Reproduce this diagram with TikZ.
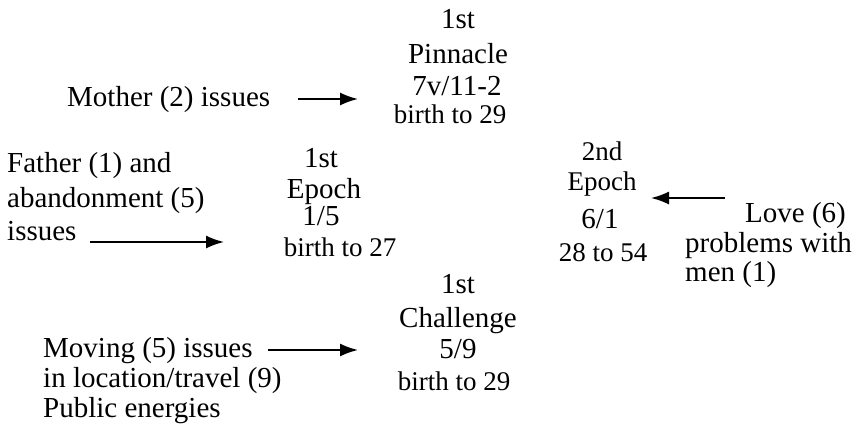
\documentclass[tikz,border=0pt]{standalone}
\usepackage{fontspec}
\setmainfont{Liberation Serif}
\usetikzlibrary{arrows.meta}
\tikzset{
  big/.style={anchor=base, inner sep=0pt, font=\fontsize{29}{29}\selectfont},
  small/.style={anchor=base, inner sep=0pt, font=\fontsize{27}{27}\selectfont},
  bigl/.style={anchor=base west, inner sep=0pt, font=\fontsize{29}{29}\selectfont},
  arr/.style={line width=1.8pt, -{Latex[length=18pt,width=13pt]}}
}
\begin{document}
\begin{tikzpicture}[x=1pt,y=-1pt]
\useasboundingbox (0,0) rectangle (857,424);
% 1st Pinnacle
\node[big] (p1) at (458,28) {1st};
\node[big] (p2) at (458,63) {Pinnacle};
\node[big] (p3) at (457,95) {7v/11-2};
\node[small] (p4) at (450,123) {birth to 29};
% Mother
\node[bigl] (mo) at (67,106) {Mother (2) issues};
\coordinate (moS) at (298,99);
\coordinate (moE) at (358,99);
\draw[arr] (moS) -- (moE);
% Father
\node[bigl] (f1) at (7,172) {Father (1) and};
\node[bigl] (f2) at (7,207) {abandonment (5)};
\node[bigl] (f3) at (7,240) {issues};
\coordinate (fS) at (90,242);
\coordinate (fE) at (224,242);
\draw[arr] (fS) -- (fE);
% 1st Epoch
\node[big] (e1) at (321,167) {1st};
\node[big] (e2) at (324,198) {Epoch};
\node[big] (e3) at (321,225) {1/5};
\node[small] (e4) at (340,256) {birth to 27};
% 2nd Epoch
\node[small] (s1) at (602,160) {2nd};
\node[small] (s2) at (602,190) {Epoch};
\node[big] (s3) at (600,228) {6/1};
\node[small] (s4) at (603,261) {28 to 54};
% Love
\node[bigl] (l1) at (745,222) {Love (6)};
\node[bigl] (l2) at (685,252) {problems with};
\node[bigl] (l3) at (685,281) {men (1)};
\coordinate (lS) at (725,198);
\coordinate (lE) at (651,198);
\draw[arr] (lS) -- (lE);
% 1st Challenge
\node[big] (c1) at (458,293) {1st};
\node[big] (c2) at (458,327) {Challenge};
\node[big] (c3) at (458,358) {5/9};
\node[small] (c4) at (454,390) {birth to 29};
% Moving
\node[bigl] (m1) at (43,357) {Moving (5) issues};
\node[bigl] (m2) at (43,387) {in location/travel (9)};
\node[bigl] (m3) at (43,417) {Public energies};
\coordinate (mS) at (268,350);
\coordinate (mE) at (358,350);
\draw[arr] (mS) -- (mE);
\end{tikzpicture}
\end{document}
